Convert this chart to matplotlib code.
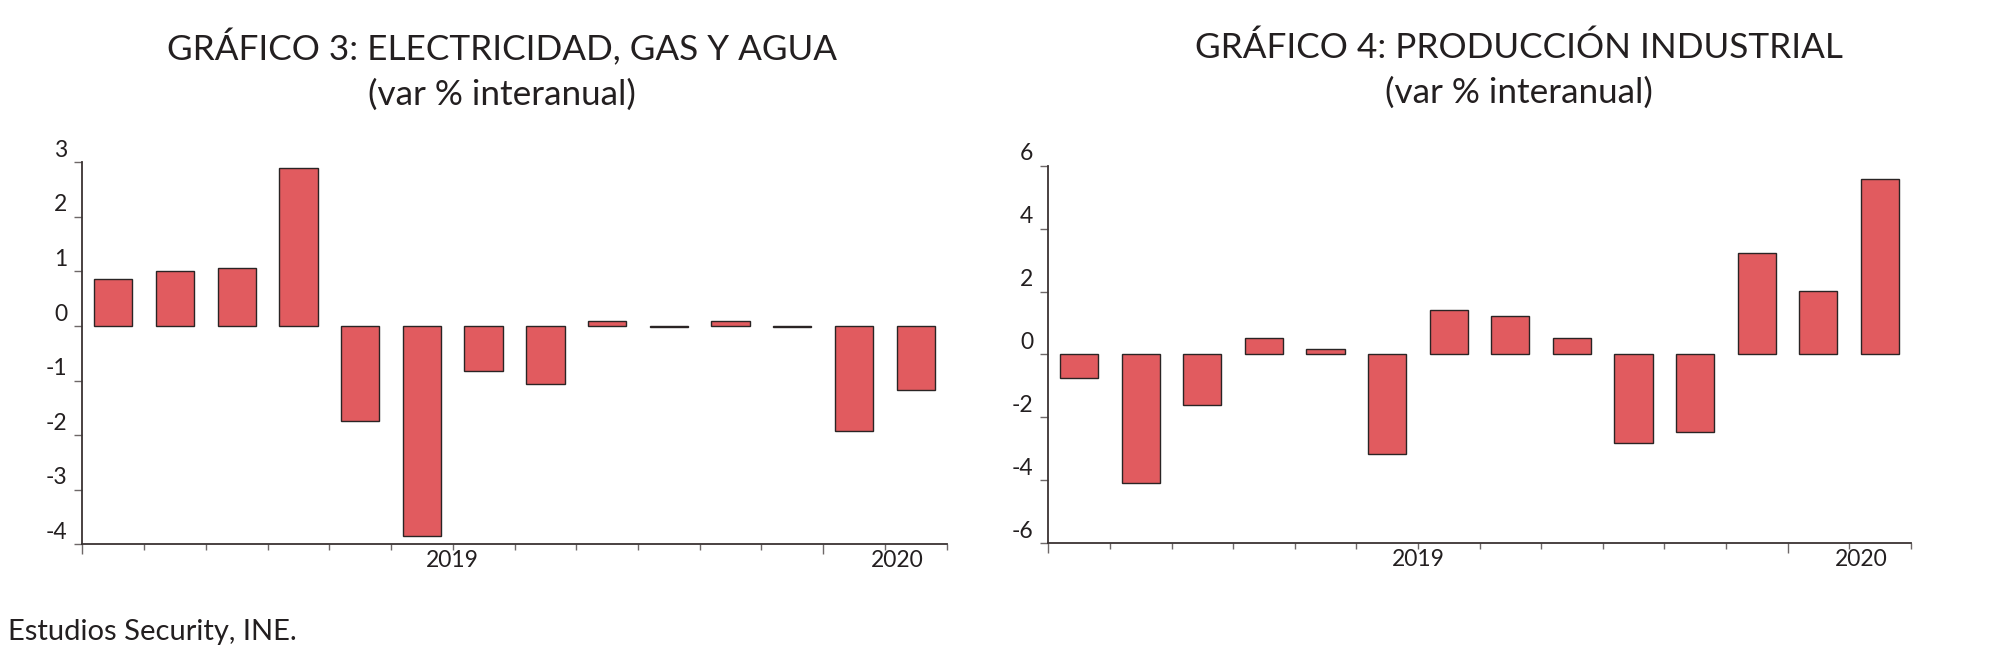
import numpy as np
import matplotlib
matplotlib.use("Agg")
import matplotlib.pyplot as plt
from matplotlib.transforms import ScaledTranslation

plt.rcParams['font.family'] = ['Lato', 'DejaVu Sans']

# data (14 periods each)
elec_values = [0.87, 1.01, 1.07, 2.89, -1.74, -3.85, -0.82, -1.07, 0.10, -0.02, 0.09, -0.02, -1.92, -1.18]
ind_values = [-0.76, -4.07, -1.62, 0.51, 0.18, -3.15, 1.40, 1.22, 0.54, -2.80, -2.45, 3.22, 2.03, 5.59]
year_labels = {6: "2019", 13: "2020"}

elec_title = "GRÁFICO 3: ELECTRICIDAD, GAS Y AGUA\n(var % interanual)"
ind_title = "GRÁFICO 4: PRODUCCIÓN INDUSTRIAL\n(var % interanual)"
source = "Estudios Security, INE."

bar_color = "#e15b5f"
edge_color = "#2a2424"
text_color = "#231f20"

fig = plt.figure(figsize=(20.14, 6.52), dpi=100)
W, H = 2014, 652


def make_axes(px_left, px_right, px_top, px_bottom):
    return fig.add_axes([px_left / W, 1 - px_bottom / H,
                         (px_right - px_left) / W, (px_bottom - px_top) / H])


def draw_panel(ax, values, ylim, yticks):
    n = len(values)
    x = np.arange(n) + 0.5
    ax.bar(x, values, width=0.62, color=bar_color, edgecolor=edge_color, linewidth=1.0, zorder=3)
    ax.set_xlim(0, n)
    ax.set_ylim(*ylim)
    ax.set_yticks(yticks)
    ax.set_yticklabels([str(v) for v in yticks])
    ax.set_xticks(np.arange(n + 1))
    ax.set_xticklabels([year_labels.get(i, "") for i in range(n + 1)])
    for s in ["top", "right"]:
        ax.spines[s].set_visible(False)
    for s in ["left", "bottom"]:
        ax.spines[s].set_color("#3a3333")
        ax.spines[s].set_linewidth(1.3)
    ax.tick_params(axis="y", length=6, width=1.0, color="#6e6868", pad=5,
                   labelsize=16.5, labelcolor=text_color)
    ax.tick_params(axis="x", length=4, width=1.0, color="#6e6868", pad=0,
                   labelsize=16.5, labelcolor=text_color)
    # longer ticks at the start and year boundary
    ticks = ax.xaxis.get_major_ticks()
    for i in (0, 12):
        ticks[i].tick1line.set_markersize(7.5)
    # y labels sit a bit above their ticks
    up = ScaledTranslation(0, 0.14, fig.dpi_scale_trans)
    for lab in ax.get_yticklabels():
        lab.set_transform(lab.get_transform() + up)
    right = ScaledTranslation(0.12, 0, fig.dpi_scale_trans)
    xl = ax.get_xticklabels()
    xl[13].set_transform(xl[13].get_transform() + right)


ax1 = make_axes(82.3, 946.7, 162.3, 544.3)
draw_panel(ax1, elec_values, (-4, 3), list(range(-4, 4)))

ax2 = make_axes(1048.3, 1910.7, 165.7, 543.3)
draw_panel(ax2, ind_values, (-6, 6), list(range(-6, 7, 2)))

fig.text(502 / W, 1 - 70 / H, elec_title, ha="center", va="center", fontsize=25.3,
         color=text_color, linespacing=1.48)
fig.text(1519 / W, 1 - 70 / H, ind_title, ha="center", va="center", fontsize=25.3,
         color=text_color, linespacing=1.48)
fig.text(8 / W, 1 - 632 / H, source, ha="left", va="center", fontsize=21, color=text_color)

fig.savefig("out.png", dpi=100, facecolor="white")
